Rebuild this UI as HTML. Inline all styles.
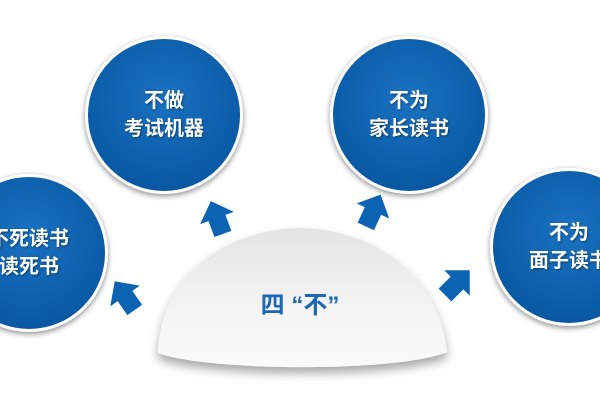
<!DOCTYPE html>
<html><head><meta charset="utf-8"><style>
body{margin:0;width:600px;height:400px;background:#fff;overflow:hidden;position:relative;font-family:"Liberation Sans","Noto Sans CJK SC",sans-serif}
.c{position:absolute;border-radius:50%;background:radial-gradient(circle at 50% 40%,#1a72c0,#0a5aa6 70%,#084f96);border:3px solid #fff;box-shadow:0 2px 6px rgba(0,0,0,.45);color:#fff;font-weight:bold;font-size:20px;line-height:28px;display:flex;align-items:center;justify-content:center;text-align:center;text-shadow:1px 1px 2px rgba(0,0,0,.4)}
</style></head><body>
<svg width="600" height="400" style="position:absolute;left:0;top:0">
<defs>
<linearGradient id="g" x1="0" y1="0" x2="0" y2="1"><stop offset="0" stop-color="#e4e4e4"/><stop offset=".6" stop-color="#f4f4f4"/><stop offset="1" stop-color="#fafafa"/></linearGradient>
<filter id="s" x="-20%" y="-20%" width="140%" height="150%"><feDropShadow dx="0" dy="6" stdDeviation="5" flood-opacity=".35"/></filter>
<g id="a"><polygon points="-9,17 -9,0 -18,0 0,-18 18,0 9,0 9,17" fill="#0d63b3"/></g>
</defs>
<path d="M158,353 C160,280 220,230 300,228 C380,230 440,280 447,352 C400,372 210,372 158,353 Z" fill="url(#g)" filter="url(#s)"/>
<use href="#a" transform="translate(217,218) rotate(-20)"/>
<use href="#a" transform="translate(373,211) rotate(25)"/>
<use href="#a" transform="translate(125,296) rotate(-35)"/>
<use href="#a" transform="translate(457,283) rotate(45)"/>
<text x="300" y="313" text-anchor="middle" font-size="24" font-weight="bold" fill="#1a68b4" font-family="Liberation Sans,Noto Sans CJK SC,sans-serif">四 “不”</text>
</svg>
<div class="c" style="left:85px;top:36px;width:152px;height:152px">不做<br>考试机器</div>
<div class="c" style="left:330px;top:36px;width:152px;height:152px">不为<br>家长读书</div>
<div class="c" style="left:-50px;top:174px;width:152px;height:152px">不死读书<br>读死书</div>
<div class="c" style="left:490px;top:168px;width:152px;height:152px">不为<br>面子读书</div>
</body></html>
